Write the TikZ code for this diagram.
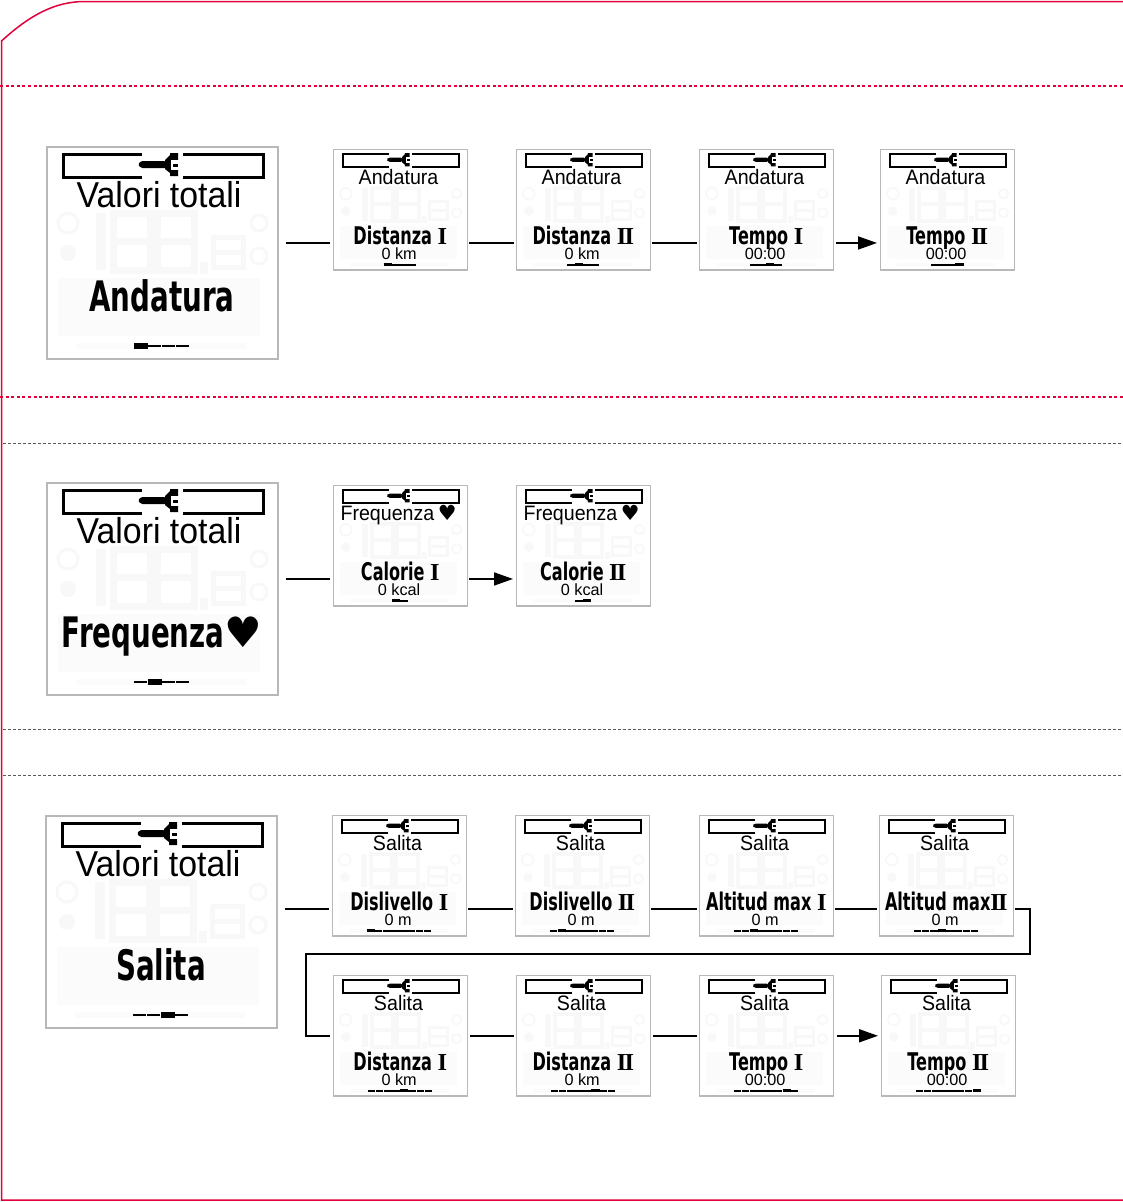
\documentclass[tikz,border=0pt]{standalone}
\usepackage{fontspec}
\usepackage{xcolor}
\usetikzlibrary{arrows.meta}
\setmainfont{Liberation Sans}
\newfontfamily\lcdtitlefont[FakeStretch=.94]{Liberation Sans}
\newfontfamily\lcdmainfont[FakeStretch=.66]{DejaVu Sans}
\newfontfamily\lcdnumfont{Liberation Serif}
\newfontfamily\lcdheartfont{DejaVu Sans}
\definecolor{framered}{HTML}{E2003C}
\definecolor{ghost}{HTML}{F8F8F8}
\definecolor{ghostband}{HTML}{FBFBFB}
\tikzset{
  screenbox/.style={draw=black!28,fill=white,line width=1.8pt,inner sep=0pt,anchor=north west,minimum width=231pt},
  titletext/.style={inner sep=0pt,anchor=base,font=\lcdtitlefont\fontsize{36}{38}\selectfont},
  maintext/.style={inner sep=0pt,anchor=base,font=\lcdmainfont\bfseries\fontsize{42}{44}\selectfont},
  valuetext/.style={inner sep=0pt,anchor=base,font=\fontsize{28}{30}\selectfont},
  link/.style={line width=1.8pt},
  linkarrow/.style={link,-{Stealth[length=19pt,width=13pt,inset=0pt]}},
  reddots/.style={framered,line width=1.5pt,dash pattern=on 3pt off 2.6pt},
  greydash/.style={black!65,line width=.8pt,dash pattern=on 3pt off 2pt},
}
\newcommand{\numI}{{\lcdnumfont\bfseries I}}
\newcommand{\numII}{{\lcdnumfont\bfseries I\kern-3pt I}}
\newcommand{\heart}{{\lcdheartfont\mdseries ♥}}
% name, x, y, scale, title, main text, value, segments, active segment
\newcommand{\lcd}[9]{
  \begin{scope}[shift={(#2,#3)},scale=#4,every node/.append style={transform shape}]
    \node (#1) [screenbox,minimum height={212pt-(1-#4)*10pt}] at (0,0) {};
    \coordinate (#1 in) at (0,162);
    \coordinate (#1 out) at (231,162);
    % faint segments of the display
    \fill[ghostband] (12,132) rectangle (214,190);
    \fill[ghostband] (30,197) rectangle (200,203);
    \draw[ghost,line width=#4*3pt] (22,77) circle (10);
    \fill[ghost] (22,107) circle (8);
    \draw[ghost,line width=#4*3pt] (213,77) circle (8);
    \draw[ghost,line width=#4*3pt] (213,110) circle (8);
    \fill[ghost] (50,67) rectangle (60,124);
    \foreach \gx in {67,111}{
      \draw[ghost,line width=#4*7pt] (\gx,67) rectangle ++(37,57);
      \draw[ghost,line width=#4*7pt] (\gx,95) -- ++(37,0);
    }
    \draw[ghost,line width=#4*5pt] (167,91) rectangle (197,121);
    \draw[ghost,line width=#4*5pt] (167,106) -- (197,106);
    \fill[ghost] (154,116) rectangle (162,128);
    % tool band
    \draw[line width=#4*3pt] (96,8.5) -- (17,8.5) -- (17,31) -- (96,31);
    \draw[line width=#4*3pt] (137,8.5) -- (217,8.5) -- (217,31) -- (137,31);
    \fill[rounded corners=1.5pt] (92,18.5) -- (95,15) -- (120,15) -- (120,22) -- (95,22) -- cycle;
    \fill (119,14) -- (124,9) -- (124,7) -- (132,7) -- (132,30) -- (124,30) -- (124,27) -- (119,23) -- cycle;
    \fill[white] (125,14) rectangle (133,24);
    \fill (127,17.5) rectangle (132,20.5);
    % texts
    \node (#1 title) [titletext] at (113,61) {#5};
    \node (#1 main) [maintext] at (116,165) {#6};
    \node (#1 value) [valuetext] at (114,191) {#7};
    % position bar
    \foreach \s in {1,...,#8}{
      \pgfmathsetmacro{\segx}{116-#8*7+(\s-1)*14}
      \ifnum\s=#9
        \fill (\segx,196.5) rectangle ++(14,6);
      \else
        \fill (\segx,198.5) rectangle ++(13,2.5);
      \fi
    }
  \end{scope}
}
\begin{document}
\begin{tikzpicture}[x=1pt,y=-1pt]
\useasboundingbox (0,0) rectangle (1123,1202);
% outer frame
\draw[framered,line width=1.5pt] (1123,1.5) -- (85,1.5) .. controls (55,1.5) and (30,15) .. (1.5,41) -- (1.5,1200) -- (1123,1200);
\draw[reddots] (0,86) -- (1123,86);
\draw[reddots] (0,397) -- (1123,397);
\draw[greydash] (3,443) -- (1123,443);
\draw[greydash] (3,729) -- (1123,729);
\draw[greydash] (3,775) -- (1123,775);
% first row
\lcd{and0}{46}{146}{1}{Valori totali}{Andatura}{}{4}{1}
\lcd{and1}{333}{149}{.58}{Andatura}{Distanza \numI}{0 km}{4}{1}
\lcd{and2}{516}{149}{.58}{Andatura}{Distanza \numII}{0 km}{4}{2}
\lcd{and3}{699}{149}{.58}{Andatura}{Tempo \numI}{00:00}{4}{3}
\lcd{and4}{880}{149}{.58}{Andatura}{Tempo \numII}{00:00}{4}{4}
\draw[link,shorten <=7pt,shorten >=3pt] (and0.east |- and1 in) -- (and1 in);
\draw[link,shorten <=2pt,shorten >=2pt] (and1 out) -- (and2 in);
\draw[link,shorten <=2pt,shorten >=2pt] (and2 out) -- (and3 in);
\draw[linkarrow,shorten <=3pt,shorten >=3pt] (and3 out) -- (and4 in);
% second row
\lcd{fre0}{46}{482}{1}{Valori totali}{Frequenza\heart}{}{4}{2}
\lcd{fre1}{333}{485}{.58}{Frequenza\,{\lcdheartfont♥}}{Calorie \numI}{0 kcal}{2}{1}
\lcd{fre2}{516}{485}{.58}{Frequenza\,{\lcdheartfont♥}}{Calorie \numII}{0 kcal}{2}{2}
\draw[link,shorten <=7pt,shorten >=3pt] (fre0.east |- fre1 in) -- (fre1 in);
\draw[linkarrow,shorten <=2pt,shorten >=3pt] (fre1 out) -- (fre2 in);
% third row
\lcd{sal0}{45}{815}{1}{Valori totali}{Salita}{}{4}{3}
\lcd{sal1}{332}{815}{.58}{Salita}{Dislivello \numI}{0 m}{8}{1}
\lcd{sal2}{515}{815}{.58}{Salita}{Dislivello \numII}{0 m}{8}{2}
\lcd{sal3}{699}{815}{.58}{Salita}{Altitud max \numI}{0 m}{8}{3}
\lcd{sal4}{879}{815}{.58}{Salita}{Altitud max\numII}{0 m}{8}{4}
\lcd{sal5}{333}{975}{.58}{Salita}{Distanza \numI}{0 km}{8}{5}
\lcd{sal6}{516}{975}{.58}{Salita}{Distanza \numII}{0 km}{8}{6}
\lcd{sal7}{699}{975}{.58}{Salita}{Tempo \numI}{00:00}{8}{7}
\lcd{sal8}{881}{975}{.58}{Salita}{Tempo \numII}{00:00}{8}{8}
\coordinate (bend) at (306,954);
\draw[link,shorten <=7pt,shorten >=3pt] (sal0.east |- sal1 in) -- (sal1 in);
\draw[link,shorten <=2pt,shorten >=2pt] (sal1 out) -- (sal2 in);
\draw[link,shorten <=2pt,shorten >=2pt] (sal2 out) -- (sal3 in);
\draw[link,shorten <=2pt,shorten >=2pt] (sal3 out) -- (sal4 in);
\draw[link,shorten <=2pt,shorten >=3pt] (sal4 out) -- ++(17,0) |- (bend) |- (sal5.west);
\draw[link,shorten <=2pt,shorten >=2pt] (sal5.east) -- (sal6.west);
\draw[link,shorten <=2pt,shorten >=2pt] (sal6.east) -- (sal7.west);
\draw[linkarrow,shorten <=3pt,shorten >=3pt] (sal7.east) -- (sal8.west);
\end{tikzpicture}
\end{document}
